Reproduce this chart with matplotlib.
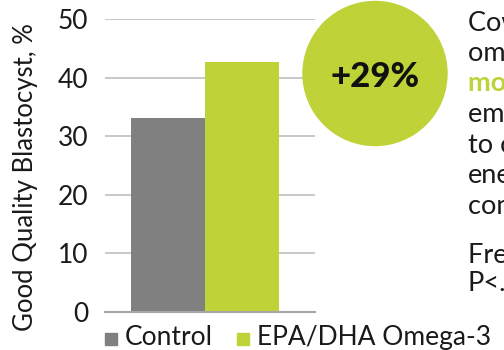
import matplotlib
matplotlib.use("Agg")

import matplotlib.pyplot as plt
from matplotlib.patches import Ellipse

plt.rcParams["font.family"] = ["Lato", "DejaVu Sans"]

# data
groups = ["Control", "EPA/DHA Omega-3"]
blastocyst_pct = [33.1, 42.7]
bar_colors = ["#808080", "#BFD237"]
y_ticks = [0, 10, 20, 30, 40, 50]
increase_label = "+29%"
side_lines = [
    ("Cows fed EPA/DHA", False),
    ("omega-3s produced", False),
    ("more good quality", True),
    ("embryos compared", False),
    ("to cows fed an", False),
    ("energy-matched", False),
    ("control diet.", False),
]
footnote_lines = ["Fresh cows", "P<.05"]

W, H = 504, 350
fig = plt.figure(figsize=(W / 100, H / 100), dpi=100)
ax = fig.add_axes([105 / W, 1 - 312 / H, 210 / W, (312 - 19) / H])

x = list(range(len(groups)))
ax.bar(x, blastocyst_pct, width=1.0, color=bar_colors, zorder=2)

# bar width 1 unit ~ 74 px; left gap 26 px, right gap 36 px
ax.set_xlim(-0.5 - 26 / 74, 1.5 + 36 / 74)
ax.set_ylim(0, 50)
ax.set_yticks(y_ticks)
ax.set_xticks([])
ax.tick_params(axis="y", length=0, pad=12, labelsize=19, labelcolor="#1a1a1a")
ax.yaxis.grid(True, color="#c4c4c4", linewidth=1.3, zorder=0)
for side in ["left", "right", "top"]:
    ax.spines[side].set_visible(False)
ax.spines["bottom"].set_color("#a6a6a6")
ax.spines["bottom"].set_linewidth(1.5)
ax.set_ylabel("Good Quality Blastocyst, %", fontsize=18.5, color="#1a1a1a")
ax.yaxis.set_label_coords(-(105 - 38) / 210, 1 - (177 - 19) / 293)

# legend below the axis
legend_items = [(105, 125), (237, 257)]
for (sx, tx), name, col in zip(legend_items, groups, bar_colors):
    fig.patches.append(
        plt.Rectangle((sx / W, 1 - 345 / H), 12 / W, 12 / H,
                      transform=fig.transFigure, color=col)
    )
    fig.text(tx / W, 1 - 345 / H, name, fontsize=19, color="#1a1a1a",
             ha="left", va="baseline")

# highlight circle with the increase
circle = Ellipse((375 / W, 1 - 73.5 / H), 144 / W, 144 / H,
                 transform=fig.transFigure, color="#BFD237", zorder=3)
fig.patches.append(circle)
fig.text(375 / W, 1 - 87 / H, increase_label, fontsize=25, fontweight="black",
         color="#111111", ha="center", va="baseline", zorder=4)

# side note text (runs off the right edge)
for i, (line, accent) in enumerate(side_lines):
    fig.text(468 / W, 1 - (30 + i * 30.7) / H, line, fontsize=19.5,
             color="#BFD237" if accent else "#1a1a1a",
             fontweight="bold" if accent else "normal",
             ha="left", va="baseline")
for i, line in enumerate(footnote_lines):
    fig.text(468 / W, 1 - (263 + i * 28) / H, line, fontsize=19.5,
             color="#1a1a1a", ha="left", va="baseline")

fig.savefig("out.png", dpi=100)
